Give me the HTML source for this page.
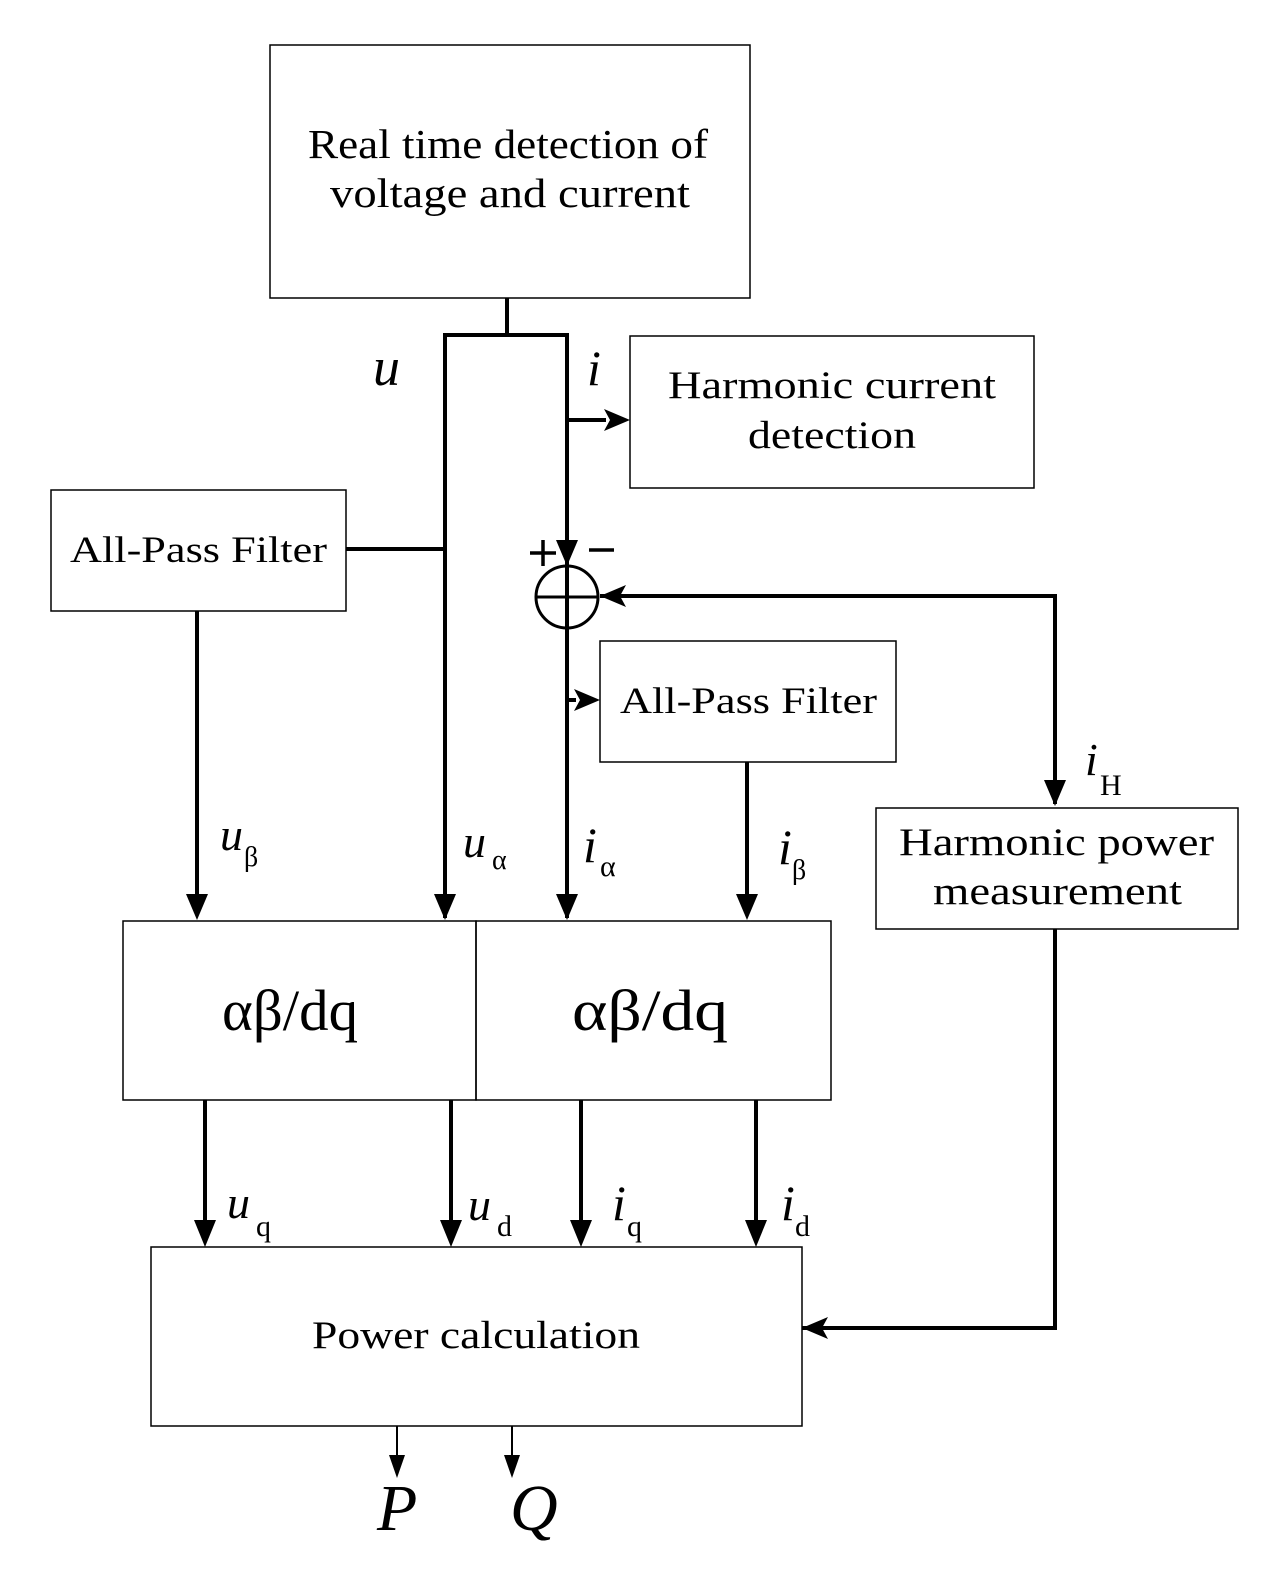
<!DOCTYPE html>
<html><head><meta charset="utf-8"><style>
html,body{margin:0;padding:0;background:#fff;}
svg{display:block;}
text{font-family:"Liberation Serif",serif;fill:#000;}
.it{font-style:italic;}
</style></head><body>
<svg width="1280" height="1575" viewBox="0 0 1280 1575" xmlns="http://www.w3.org/2000/svg">
<g fill="none" stroke="#000" stroke-width="1.5">
<rect x="270" y="45" width="480" height="253"/>
<rect x="630" y="336" width="404" height="152"/>
<rect x="51" y="490" width="295" height="121"/>
<rect x="600" y="641" width="296" height="121"/>
<rect x="876" y="808" width="362" height="121"/>
<rect x="123" y="921" width="353" height="179"/>
<rect x="476" y="921" width="355" height="179"/>
<rect x="151" y="1247" width="651" height="179"/>
</g>
<g fill="none" stroke="#000" stroke-width="4">
<line x1="507" y1="298" x2="507" y2="335"/>
<polyline points="445,918 445,335 567,335 567,565"/>
<line x1="567" y1="565" x2="567" y2="918"/>
<circle cx="567" cy="597" r="31" stroke-width="3"/>
<line x1="536" y1="597" x2="598" y2="597" stroke-width="3"/>
<line x1="346" y1="549" x2="445" y2="549"/>
<polyline points="1055,804 1055,596 600,596"/>
<polyline points="1055,929 1055,1328 802,1328"/>
</g>
<g fill="#000">
<polygon points="556,540 578,540 567,566"/>
<polygon points="630,420 604,409 610,420 604,431"/>
<polygon points="600,596 626,585 620,596 626,607"/>
<polygon points="1055,806 1044,780 1066,780"/>
<polygon points="600,700 574,689 580,700 574,711"/>
<polygon points="802,1328 828,1317 822,1328 828,1339"/>
</g>
<g stroke="#000" stroke-width="4">
<line x1="567" y1="420" x2="606" y2="420"/>
<line x1="567" y1="700" x2="576" y2="700"/>
<line x1="197" y1="611" x2="197" y2="896"/>
<line x1="747" y1="762" x2="747" y2="896"/>
<line x1="205" y1="1100" x2="205" y2="1222"/>
<line x1="451" y1="1100" x2="451" y2="1222"/>
<line x1="581" y1="1100" x2="581" y2="1222"/>
<line x1="756" y1="1100" x2="756" y2="1222"/>
<line x1="530" y1="553" x2="556" y2="553" stroke-width="3.5"/>
<line x1="543" y1="540" x2="543" y2="566" stroke-width="3.5"/>
<line x1="589" y1="550" x2="614" y2="550" stroke-width="3.5"/>
</g>
<g fill="#000">
<polygon points="186,894 208,894 197,920"/>
<polygon points="434,894 456,894 445,920"/>
<polygon points="556,894 578,894 567,920"/>
<polygon points="736,894 758,894 747,920"/>
<polygon points="194,1220 216,1220 205,1247"/>
<polygon points="440,1220 462,1220 451,1247"/>
<polygon points="570,1220 592,1220 581,1247"/>
<polygon points="745,1220 767,1220 756,1247"/>
<polygon points="389,1455 405,1455 397,1478"/>
<polygon points="504,1455 520,1455 512,1478"/>
</g>
<g stroke="#000" stroke-width="2">
<line x1="397" y1="1426" x2="397" y2="1458"/>
<line x1="512" y1="1426" x2="512" y2="1458"/>
</g>
<text x="308" y="158" font-size="41" textLength="400" lengthAdjust="spacingAndGlyphs">Real time detection of</text>
<text x="330" y="207" font-size="41" textLength="360" lengthAdjust="spacingAndGlyphs">voltage and current</text>
<text x="668" y="398" font-size="39" textLength="328" lengthAdjust="spacingAndGlyphs">Harmonic current</text>
<text x="748" y="448" font-size="39" textLength="168" lengthAdjust="spacingAndGlyphs">detection</text>
<text x="70" y="562" font-size="37" textLength="257" lengthAdjust="spacingAndGlyphs">All-Pass Filter</text>
<text x="620" y="713" font-size="37" textLength="257" lengthAdjust="spacingAndGlyphs">All-Pass Filter</text>
<text x="899" y="855" font-size="39" textLength="315" lengthAdjust="spacingAndGlyphs">Harmonic power</text>
<text x="933" y="904" font-size="39" textLength="249" lengthAdjust="spacingAndGlyphs">measurement</text>
<text x="222" y="1030" font-size="58" textLength="136" lengthAdjust="spacingAndGlyphs">αβ/dq</text>
<text x="572" y="1030" font-size="58" textLength="156" lengthAdjust="spacingAndGlyphs">αβ/dq</text>
<text x="312" y="1348" font-size="39" textLength="328" lengthAdjust="spacingAndGlyphs">Power calculation</text>
<text x="373" y="385" font-size="54" class="it">u</text>
<text x="587" y="385" font-size="50" class="it">i</text>
<text x="1085" y="775" font-size="46" class="it">i</text><text x="1100" y="795" font-size="30">H</text>
<text x="220" y="850" font-size="46" class="it">u</text><text x="244" y="866" font-size="28">β</text>
<text x="463" y="857" font-size="46" class="it">u</text><text x="492" y="869" font-size="28">α</text>
<text x="583" y="862" font-size="50" class="it">i</text><text x="600" y="876" font-size="30">α</text>
<text x="778" y="864" font-size="50" class="it">i</text><text x="792" y="879" font-size="28">β</text>
<text x="227" y="1218" font-size="46" class="it">u</text><text x="256" y="1236" font-size="30">q</text>
<text x="468" y="1220" font-size="46" class="it">u</text><text x="497" y="1236" font-size="30">d</text>
<text x="612" y="1220" font-size="50" class="it">i</text><text x="627" y="1236" font-size="30">q</text>
<text x="781" y="1220" font-size="50" class="it">i</text><text x="795" y="1236" font-size="30">d</text>
<text x="377" y="1530" font-size="66" class="it">P</text>
<text x="510" y="1530" font-size="66" class="it">Q</text>
</svg>
</body></html>
